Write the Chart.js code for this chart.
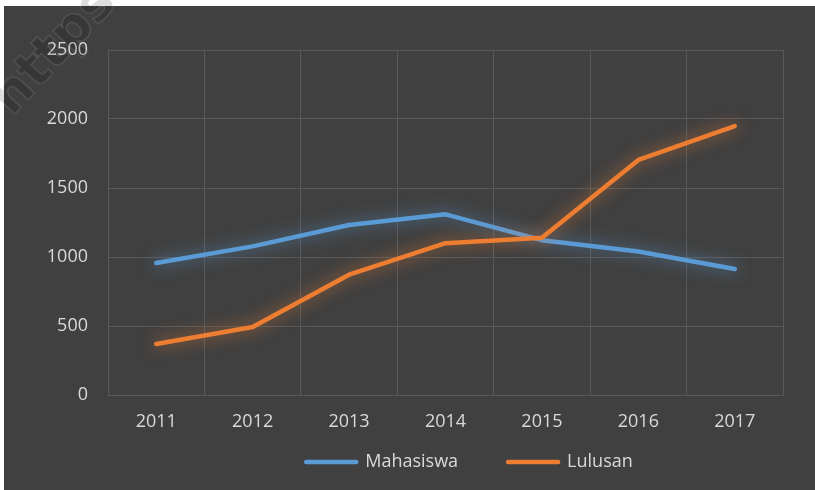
<!DOCTYPE html>
<html><head><meta charset="utf-8">
<script src="https://cdn.jsdelivr.net/npm/chart.js@4/dist/chart.umd.min.js"></script>
<style>html,body{margin:0;padding:0;background:#fff;} #wrap{width:815px;height:490px;position:relative}</style>
</head><body><div id="wrap"><canvas id="c" width="815" height="490"></canvas></div>
<script>
const years = ['2011','2012','2013','2014','2015','2016','2017'];
const mahasiswa = [957, 1077, 1232, 1309, 1122, 1040, 913];
const lulusan = [370, 493, 872, 1100, 1140, 1703, 1949];
const yTicks = [0, 500, 1000, 1500, 2000, 2500];
const seriesNames = ['Mahasiswa', 'Lulusan'];

const TXT = '#d9d9d9';
const GRID = '#595959';
const FONT = {family: '"Open Sans", sans-serif', size: 18};

const bgPlugin = {
  id: 'bg',
  beforeDraw(chart) {
    const ctx = chart.ctx;
    ctx.save();
    ctx.fillStyle = '#ffffff';
    ctx.fillRect(0, 0, chart.width, chart.height);
    ctx.fillStyle = '#404040';
    ctx.fillRect(4, 6, chart.width - 4, chart.height - 6);
    ctx.restore();
  }
};
const glowPlugin = {
  id: 'glow',
  beforeDatasetDraw(chart, args) {
    const ds = chart.data.datasets[args.index];
    const ctx = chart.ctx;
    ctx.save();
    ctx.shadowColor = ds.glowColor;
    ctx.shadowBlur = 16;
  },
  afterDatasetDraw(chart) { chart.ctx.restore(); }
};
const legendShift = {
  id: 'legendShift',
  afterLayout(chart) {
    const lg = chart.legend;
    lg.left += 24; lg.right += 24;
    lg.top -= 34; lg.bottom -= 34;
  }
};
const watermark = {
  id: 'watermark',
  afterDraw(chart) {
    const ctx = chart.ctx;
    ctx.save();
    ctx.translate(2, 108);
    ctx.rotate(-47 * Math.PI / 180);
    ctx.font = 'bold 52px "DejaVu Sans"';
    ctx.fillStyle = 'rgba(0,0,0,0.13)';
    ctx.strokeStyle = 'rgba(255,255,255,0.10)';
    ctx.lineWidth = 1.5;
    ctx.fillText('https://', 0, 0);
    ctx.strokeText('https://', 0, 0);
    ctx.restore();
  }
};

new Chart(document.getElementById('c'), {
  type: 'line',
  data: {
    labels: years,
    datasets: [
      {label: seriesNames[0], data: mahasiswa, borderColor: '#5B9BD5', backgroundColor: '#5B9BD5',
       glowColor: 'rgba(91,155,213,0.75)', borderWidth: 4.5, pointRadius: 0, tension: 0,
       borderCapStyle: 'round', borderJoinStyle: 'round', order: 1},
      {label: seriesNames[1], data: lulusan, borderColor: '#ED7D31', backgroundColor: '#ED7D31',
       glowColor: 'rgba(237,125,49,0.75)', borderWidth: 4.5, pointRadius: 0, tension: 0,
       borderCapStyle: 'round', borderJoinStyle: 'round', order: 0}
    ]
  },
  options: {
    responsive: false,
    animation: false,
    layout: {padding: {left: 4, top: 50, right: 32, bottom: -25}},
    plugins: {
      legend: {
        position: 'bottom', fullSize: false,
        labels: {color: TXT, font: FONT, boxWidth: 50, boxHeight: 0, padding: 50,
                 sort: (a, b) => a.datasetIndex - b.datasetIndex}
      },
      tooltip: {enabled: false}
    },
    scales: {
      x: {
        offset: true,
        grid: {offset: true, color: GRID, lineWidth: 1, drawTicks: false},
        border: {color: GRID},
        ticks: {color: TXT, font: FONT, padding: 16, maxRotation: 0},
        afterFit(s) { s.height = 42; }
      },
      y: {
        min: 0, max: 2500,
        afterBuildTicks(s) { s.ticks = yTicks.map(v => ({value: v})); },
        grid: {color: GRID, lineWidth: 1, drawTicks: false},
        border: {color: GRID},
        ticks: {color: TXT, font: FONT, padding: 20, callback: v => String(v)},
        afterFit(s) { s.width = 104; }
      }
    }
  },
  plugins: [bgPlugin, glowPlugin, legendShift, watermark]
});
</script></body></html>
